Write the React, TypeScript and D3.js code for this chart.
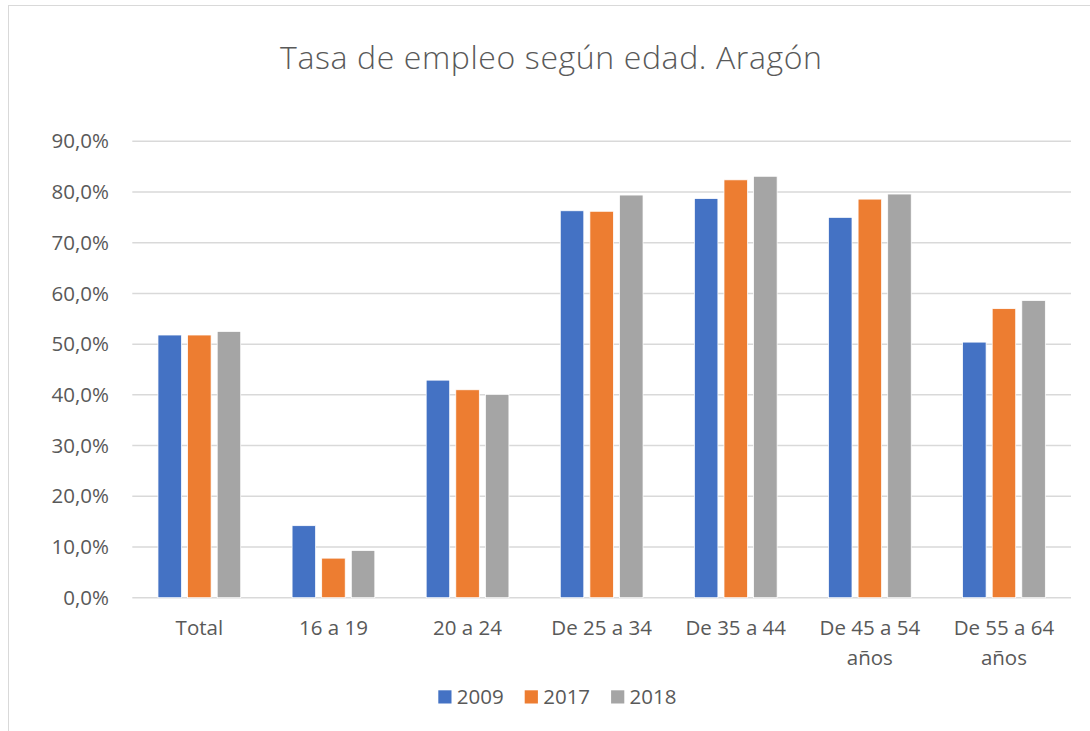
import React from "react";
import * as d3 from "d3";

const categories = [
  ["Total"],
  ["16 a 19"],
  ["20 a 24"],
  ["De 25 a 34"],
  ["De 35 a 44"],
  ["De 45 a 54", "años"],
  ["De 55 a 64", "años"],
];
const seriesNames = ["2009", "2017", "2018"];
const values2009 = [51.8, 14.2, 42.9, 76.3, 78.7, 75.0, 50.4];
const values2017 = [51.8, 7.8, 41.0, 76.2, 82.4, 78.6, 57.0];
const values2018 = [52.5, 9.3, 40.1, 79.4, 83.1, 79.6, 58.6];
const yTicks = [0, 10, 20, 30, 40, 50, 60, 70, 80, 90];
const colors = ["#4472C4", "#ED7D31", "#A5A5A5"];

const W = 1090;
const H = 731;
const font = "'Open Sans', 'DejaVu Sans', sans-serif";
const textColor = "#595959";

export default function App() {
  const series = [values2009, values2017, values2018];
  const left = 132.3;
  const right = 1071;
  const top = 141.3;
  const bottom = 597.7;

  const y = d3.scaleLinear().domain([0, 90]).range([bottom, top]);
  const x0 = d3
    .scaleBand<number>()
    .domain(d3.range(categories.length))
    .range([left, right])
    .paddingInner(0.383)
    .paddingOuter(0.1915);
  const x1 = d3
    .scaleBand<number>()
    .domain(d3.range(seriesNames.length))
    .range([0, x0.bandwidth()])
    .paddingInner(0.206)
    .paddingOuter(0);

  const fmt = (v: number) => v.toFixed(1).replace(".", ",") + "%";

  return (
    <svg
      width={W}
      height={H}
      style={{ position: "absolute", left: 0, top: 0, display: "block", background: "#fff" }}
      fontFamily={font}
    >
      <rect x={8.5} y={5.5} width={1200} height={900} fill="#fff" stroke="#D9D9D9" strokeWidth={1} />

      <text
        x={551}
        y={69}
        textAnchor="middle"
        fontSize={32}
        fontWeight={300}
        fill={textColor}
        textLength={542}
        lengthAdjust="spacing"
      >
        Tasa de empleo según edad. Aragón
      </text>

      {yTicks.map((t) => (
        <g key={t}>
          <line x1={left} x2={right} y1={y(t)} y2={y(t)} stroke="#D9D9D9" strokeWidth={1.5} />
          <text x={109} y={y(t)} dy="0.35em" textAnchor="end" fontSize={20.5} fill={textColor}>
            {fmt(t)}
          </text>
        </g>
      ))}

      {series.map((vals, si) =>
        vals.map((v, ci) => (
          <rect
            key={`${si}-${ci}`}
            x={(x0(ci) as number) + (x1(si) as number)}
            y={y(v)}
            width={x1.bandwidth()}
            height={y(0) - y(v)}
            fill={colors[si]}
            stroke="#fff"
            strokeWidth={0.75}
          />
        ))
      )}

      {categories.map((lines, ci) => (
        <text
          key={ci}
          x={(x0(ci) as number) + x0.bandwidth() / 2}
          y={635}
          textAnchor="middle"
          fontSize={20.5}
          fill={textColor}
        >
          {lines.map((l, li) => (
            <tspan key={li} x={(x0(ci) as number) + x0.bandwidth() / 2} dy={li === 0 ? 0 : 29.5}>
              {l}
            </tspan>
          ))}
        </text>
      ))}

      {seriesNames.map((name, i) => {
        const lx = 438.3 + i * 86.4;
        return (
          <g key={name}>
            <rect x={lx} y={690.3} width={13.2} height={13.2} fill={colors[i]} />
            <text x={lx + 18.5} y={704} fontSize={20.5} fill={textColor}>
              {name}
            </text>
          </g>
        );
      })}
    </svg>
  );
}
